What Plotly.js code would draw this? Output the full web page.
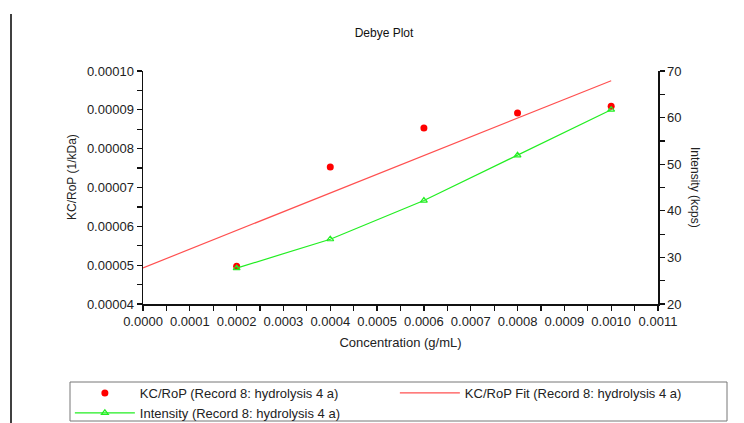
<!DOCTYPE html>
<html>
<head>
<meta charset="utf-8">
<script src="https://cdn.plot.ly/plotly-3.0.1.min.js"></script>
<style>html,body{margin:0;padding:0;background:#fff;}#chart{width:744px;height:423px;}</style>
</head>
<body>
<div id="chart"></div>
<script>
// Data
const concentration = [0.0002, 0.0004, 0.0006, 0.0008, 0.0010];
const kcRoP = [0.0000497, 0.0000753, 0.0000853, 0.0000892, 0.0000909];
const fitX = [0.0000, 0.0010];
const fitY = [0.0000493, 0.0000975];
const intensity = [27.7, 33.9, 42.2, 51.9, 61.7];

const xTickVals = [0,0.0001,0.0002,0.0003,0.0004,0.0005,0.0006,0.0007,0.0008,0.0009,0.0010,0.0011];
const xTickText = ["0.0000","0.0001","0.0002","0.0003","0.0004","0.0005","0.0006","0.0007","0.0008","0.0009","0.0010","0.0011"];
const yTickVals = [0.00004,0.00005,0.00006,0.00007,0.00008,0.00009,0.00010];
const yTickText = ["0.00004","0.00005","0.00006","0.00007","0.00008","0.00009","0.00010"];

const font = 'Liberation Sans, Arial, sans-serif';

const traces = [
  {
    x: concentration, y: kcRoP, type: 'scatter', mode: 'markers',
    name: 'KC/RoP (Record 8: hydrolysis 4 a)',
    marker: {color: '#ff0000', size: 7, symbol: 'circle'},
    xaxis: 'x', yaxis: 'y'
  },
  {
    x: fitX, y: fitY, type: 'scatter', mode: 'lines',
    name: 'KC/RoP Fit (Record 8: hydrolysis 4 a)',
    line: {color: '#ff5050', width: 1.2},
    xaxis: 'x', yaxis: 'y'
  },
  {
    x: concentration, y: intensity, type: 'scatter', mode: 'lines+markers',
    name: 'Intensity (Record 8: hydrolysis 4 a)',
    line: {color: '#22ee22', width: 1.2},
    marker: {color: '#22ee22', size: 6, symbol: 'triangle-up-open', line: {width: 1.2, color: '#22ee22'}},
    xaxis: 'x', yaxis: 'y2'
  }
];

const layout = {
  width: 744, height: 423,
  margin: {l: 143, r: 86, t: 71, b: 119, pad: 0, autoexpand: false},
  paper_bgcolor: '#ffffff', plot_bgcolor: '#ffffff',
  font: {family: font, size: 13, color: '#222'},
  showlegend: true,
  title: {text: 'Debye Plot', font: {family: font, size: 12, color: '#111'},
          xref: 'paper', x: 0.468, xanchor: 'center', yref: 'container', y: 0.922, yanchor: 'middle'},
  xaxis: {
    range: [0, 0.0011], tickmode: 'array', tickvals: xTickVals, ticktext: xTickText,
    showgrid: false, zeroline: false, showline: true, linecolor: '#111', linewidth: 1.5,
    ticks: 'outside', ticklen: 5, tickwidth: 1.2, tickcolor: '#111',
    minor: {dtick: 0.00005, tick0: 0, ticks: 'outside', ticklen: 5, tickwidth: 1.2, tickcolor: '#111', showgrid: false},
    tickfont: {family: font, size: 13, color: '#222'},
    title: {text: 'Concentration (g/mL)', font: {family: font, size: 13, color: '#222'}, standoff: 10}
  },
  yaxis: {
    range: [0.00004, 0.00010], tickmode: 'array', tickvals: yTickVals, ticktext: yTickText,
    showgrid: false, zeroline: false, showline: true, linecolor: '#111', linewidth: 1.5,
    ticks: 'outside', ticklen: 5, tickwidth: 1.2, tickcolor: '#111',
    minor: {dtick: 0.000005, tick0: 0.00004, ticks: 'outside', ticklen: 5, tickwidth: 1.2, tickcolor: '#111', showgrid: false},
    tickfont: {family: font, size: 13, color: '#222'}
  },
  yaxis2: {
    range: [20, 70], dtick: 10, tick0: 20, overlaying: 'y', side: 'right',
    showgrid: false, zeroline: false, showline: true, linecolor: '#111', linewidth: 1.5,
    ticks: 'outside', ticklen: 5, tickwidth: 1.2, tickcolor: '#111',
    minor: {dtick: 5, tick0: 20, ticks: 'outside', ticklen: 5, tickwidth: 1.2, tickcolor: '#111', showgrid: false},
    tickfont: {family: font, size: 13, color: '#222'}
  },
  legend: {
    orientation: 'h', xref: 'paper', yref: 'paper', x: -0.142, y: -0.3176, xanchor: 'left', yanchor: 'top',
    entrywidth: 250, entrywidthmode: 'pixels', itemwidth: 60,
    borderwidth: 0, bgcolor: 'rgba(0,0,0,0)',
    font: {family: font, size: 13, color: '#222'},
    tracegroupgap: 0, traceorder: 'normal'
  },
  annotations: [
    {text: 'KC/RoP (1/kDa)', textangle: -90, xref: 'paper', yref: 'paper',
     x: (72 - 143) / 515, y: (304 - 177) / 233, xanchor: 'center', yanchor: 'middle', showarrow: false,
     font: {family: font, size: 12, color: '#222'}},
    {text: 'Intensity (kcps)', textangle: 90, xref: 'paper', yref: 'paper',
     x: (695 - 143) / 515, y: (304 - 187) / 233, xanchor: 'center', yanchor: 'middle', showarrow: false,
     font: {family: font, size: 12, color: '#222'}}
  ],
  shapes: [
    {type: 'line', xref: 'paper', yref: 'paper', x0: (11 - 143) / 515, x1: (11 - 143) / 515,
     y0: (304 - 14) / 233, y1: (304 - 430) / 233, line: {color: '#000', width: 1.5}},
    {type: 'rect', xref: 'paper', yref: 'paper', layer: 'below',
     x0: (70 - 143) / 515, x1: (727 - 143) / 515, y0: (304 - 382) / 233, y1: (304 - 421) / 233,
     line: {color: '#777', width: 1}, fillcolor: 'rgba(0,0,0,0)'}
  ]
};

Plotly.newPlot('chart', traces, layout, {displayModeBar: false, staticPlot: true});
</script>
</body>
</html>
